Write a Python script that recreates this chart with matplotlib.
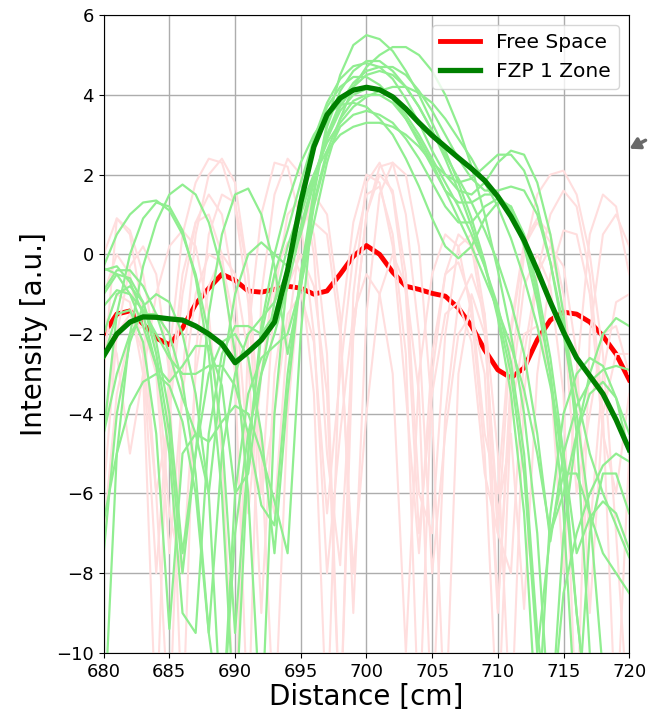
import numpy as np
import matplotlib
matplotlib.use("Agg")
import matplotlib.pyplot as plt

# distancias (cm)
x = np.arange(680, 721)

# curvas medias
free_space = [-2.0, -1.5, -1.42, -1.75, -2.1, -2.27, -1.85, -1.25, -0.85, -0.5,
              -0.65, -0.92, -0.95, -0.88, -0.8, -0.85, -1.0, -0.92, -0.5, -0.05,
              0.22, 0.0, -0.45, -0.8, -0.88, -0.98, -1.05, -1.35, -1.8, -2.4,
              -2.9, -3.1, -2.85, -2.15, -1.65, -1.45, -1.5, -1.7, -2.05, -2.5,
              -3.15]
fzp_1zone = [-2.55, -2.0, -1.7, -1.57, -1.58, -1.62, -1.65, -1.8, -2.0, -2.25,
             -2.72, -2.45, -2.15, -1.7, -0.4, 1.3, 2.7, 3.5, 3.92, 4.12,
             4.19, 4.13, 3.95, 3.65, 3.3, 2.98, 2.7, 2.42, 2.15, 1.85,
             1.45, 0.95, 0.35, -0.4, -1.2, -1.95, -2.6, -3.05, -3.5, -4.15,
             -4.9]

# corridas individuais (zona 1)
fzp_runs = [
  [-1.0, -0.5, -0.6, -1.2, -2.5, -4.5, -8.0, -5.0, -3.0, -2.2, -2.0, -2.6, -4.5, -7.5,
   -3.5, -0.5, 1.6, 3.3, 4.5, 5.25, 5.5, 5.4, 5.1, 4.6, 4.0, 3.3, 2.6, 1.8, 0.9, -0.2,
   -1.6, -3.5, -6.5, -12, -6.5, -4.0, -3.0, -2.6, -2.8, -3.6, -5.0],
  [-7.5, -4.0, -2.2, -1.3, -1.0, -1.2, -2.0, -3.5, -6.0, -12, -6.0, -3.5, -2.6, -2.3,
   -2.0, -0.8, 0.8, 2.3, 3.4, 4.2, 4.7, 5.0, 5.2, 5.2, 5.0, 4.6, 4.0, 3.2, 2.2, 1.0,
   -0.4, -2.0, -4.0, -7.0, -12, -7.0, -4.5, -3.5, -3.2, -3.6, -4.5],
  [-0.3, 0.5, 1.0, 1.3, 1.35, 1.1, 0.5, -0.5, -2.0, -4.5, -9.5, -5.0, -2.0, -0.5,
   0.6, 1.8, 2.9, 3.8, 4.4, 4.72, 4.8, 4.7, 4.4, 3.9, 3.3, 2.6, 2.0, 1.6, 1.5, 1.8,
   2.3, 2.6, 2.5, 1.8, 0.5, -1.5, -4.5, -10, -12, -12, -12],
  [-4.5, -3.0, -2.0, -1.5, -1.5, -2.0, -3.2, -5.5, -9.5, -5.0, -3.0, -2.0, -1.6, -1.2,
   -0.4, 0.7, 1.9, 2.9, 3.7, 4.2, 4.5, 4.6, 4.5, 4.2, 3.7, 3.1, 2.4, 1.6, 0.7, -0.3,
   -1.5, -3.0, -5.5, -10, -7.0, -5.5, -5.5, -6.5, -7.5, -8.0, -8.5],
  [-12, -5.0, -2.0, -0.3, 0.8, 1.5, 1.75, 1.5, 0.8, -0.4, -2.5, -6.0, -12, -4.0,
   -0.5, 1.5, 2.8, 3.7, 4.2, 4.45, 4.45, 4.25, 3.9, 3.4, 2.8, 2.2, 1.6, 1.3, 1.3, 1.5,
   1.5, 1.1, 0.2, -1.2, -3.0, -5.5, -9.0, -12, -12, -12, -12],
  [-2.0, -1.0, -0.8, -1.2, -2.2, -4.0, -7.5, -5.0, -1.5, 0.5, 1.5, 1.65, 1.0, -0.3,
   -2.5, -0.8, 1.2, 2.5, 3.2, 3.5, 3.6, 3.5, 3.3, 2.9, 2.4, 1.8, 1.2, 0.8, 0.8, 1.2,
   1.4, 1.2, 0.4, -1.0, -3.0, -6.5, -12, -7.0, -5.5, -5.5, -6.5],
  [-0.4, -0.3, -0.7, -1.5, -2.8, -5.0, -9.0, -9.5, -4.5, -2.5, -1.8, -1.8, -2.0, -1.5,
   -0.3, 1.0, 2.0, 2.8, 3.3, 3.7, 3.95, 4.1, 4.2, 4.2, 4.05, 3.8, 3.4, 2.9, 2.4, 1.8,
   1.2, 0.4, -0.6, -1.8, -3.3, -5.0, -7.5, -6.6, -6.2, -6.5, -7.4],
  [-4.5, -1.5, 0.0, 0.9, 1.3, 1.2, 0.6, -0.6, -2.5, -6.0, -12, -5.0, -1.8, 0.0,
   1.3, 2.3, 3.0, 3.5, 3.75, 3.8, 3.7, 3.4, 3.0, 2.4, 1.7, 0.9, 0.2, -0.1, 0.2, 0.9,
   1.3, 1.2, 0.5, -0.8, -2.6, -5.0, -9.0, -12, -12, -12, -12],
  [-6.7, -5.0, -3.8, -3.2, -3.0, -3.3, -4.2, -6.0, -9.5, -12, -7.0, -4.5, -3.0, -2.0,
   -0.8, 0.6, 1.9, 3.0, 3.8, 4.3, 4.6, 4.7, 4.7, 4.5, 4.1, 3.6, 3.0, 2.4, 1.9, 1.6,
   1.6, 1.7, 1.6, 1.0, -0.2, -1.8, -3.5, -5.0, -6.0, -6.8, -7.6],
  [-0.35, -0.5, -1.0, -1.8, -2.8, -3.2, -2.8, -2.3, -2.3, -3.3, -6.0, -5.5, -3.0, -1.2,
   0.2, 1.2, 2.0, 2.6, 3.0, 3.2, 3.3, 3.3, 3.2, 3.0, 2.7, 2.3, 2.0, 1.8, 1.9, 2.2,
   2.5, 2.5, 2.1, 1.2, -0.2, -2.0, -4.0, -6.5, -10.5, -12, -12],
  [-1.3, -0.9, -1.0, -1.4, -2.0, -2.6, -3.0, -3.0, -2.8, -2.8, -3.3, -4.5, -6.3, -6.8,
   -3.0, -0.5, 1.3, 2.6, 3.4, 3.85, 4.0, 4.0, 3.8, 3.4, 2.9, 2.3, 1.6, 0.9, 0.2, -0.6,
   -1.4, -2.3, -3.4, -5.0, -7.0, -6.0, -4.5, -3.0, -2.0, -1.6, -1.8],
  [-0.9, -0.4, -0.4, -0.8, -1.5, -2.5, -3.6, -4.5, -4.7, -4.2, -3.8, -4.0, -5.0, -6.2,
   -7.5, -2.0, 1.5, 3.2, 4.1, 4.6, 4.85, 4.85, 4.6, 4.2, 3.7, 3.1, 2.5, 1.9, 1.3, 0.6,
   -0.2, -1.2, -2.5, -4.5, -7.2, -5.0, -3.8, -3.2, -2.9, -2.8, -2.9],
  [-2.6, -1.5, -1.4, -2.2, -4.5, -9.4, -5.0, -4.5, -6.0, -3.0, -1.0, 0.0, 0.3, 0.0,
   -0.3, 0.5, 1.8, 2.9, 3.6, 4.0, 4.15, 4.1, 3.9, 3.5, 3.0, 2.4, 1.8, 1.2, 0.5, -0.3,
   -1.3, -2.7, -5.0, -9.5, -12, -8.5, -7.0, -6.0, -5.3, -5.0, -5.2],
]

# corridas individuais (espaco livre)
free_runs = [
  [-3.0, 0.9, 0.5, -1.5, -6.0, -12, -3.0, 0.5, 2.0, 2.4, 1.8, -0.5, -5.0, -12,
   -4.0, -0.5, 0.8, 0.5, -2.0, -8.0, -4.0, -1.0, 0.0, -0.8, -3.5, -12, -4.0, -1.2, -0.5, -1.5,
   -5.0, -12, -3.5, -0.5, 1.0, 1.6, 1.2, -0.5, -4.0, -12, -5.0],
  [-1.0, 0.0, -0.5, -2.5, -8.0, -3.5, -0.5, 0.8, 1.0, 0.0, -3.0, -12, -1.0, 1.5,
   2.4, 2.0, 0.0, -5.0, -7.8, -2.0, 1.0, 2.0, 1.6, -0.5, -6.0, -7.0, -2.0, 0.2, 0.5, -1.5,
   -8.9, -3.5, -0.8, 0.0, -0.8, -3.5, -12, -2.0, 0.5, 1.0, 0.2],
  [-6.0, -2.0, -0.3, 0.2, -0.5, -3.0, -12, -2.5, 0.5, 1.5, 1.3, -0.5, -5.0, -6.5,
   -2.0, 0.5, 1.5, 1.0, -1.5, -9.0, -1.5, 1.5, 2.3, 2.0, 0.2, -4.0, -12, -3.0, -1.0, -2.0,
   -6.5, -4.5, -8.9, -3.0, -0.5, 0.6, 0.5, -1.0, -4.5, -6.0, -3.5],
  [0.0, 0.9, 0.6, -0.5, -2.5, -6.5, -8.0, -3.0, -0.8, 0.0, -0.5, -2.5, -9.0, -3.0,
   -0.8, 0.0, -0.8, -3.5, -12, -2.0, 1.0, 2.2, 2.3, 1.0, -2.0, -8.0, -4.5, -2.0, -1.5, -3.0,
   -9.0, -3.0, 0.0, 1.5, 2.0, 2.1, 1.5, 0.0, -2.5, -7.0, -12],
  [-4.5, -2.0, -1.5, -2.5, -6.0, -4.0, -1.0, 0.8, 1.5, 1.0, -1.0, -5.0, -6.0, -1.0,
   1.0, 1.4, 0.5, -2.5, -12, -1.0, 1.8, 2.3, 1.5, -1.0, -7.0, -3.5, -1.5, -1.2, -2.2, -5.5,
   -7.0, -2.0, 0.2, 0.8, 0.3, -1.5, -6.0, -4.0, -2.0, -1.8, -3.0],
  [-2.0, -1.0, -1.2, -3.0, -12, -2.5, 0.5, 1.8, 2.4, 2.3, 1.2, -1.2, -6.0, -4.0,
   -1.5, -1.0, -2.2, -6.5, -3.0, 0.0, 1.5, 1.7, 0.5, -2.5, -12, -3.0, -0.5, 0.5, 0.2, -1.8,
   -7.0, -8.0, -2.5, -0.5, 0.2, -0.3, -2.5, -9.0, -4.0, -2.5, -2.5],
  [-1.5, -2.5, -5.0, -3.0, -1.0, 0.2, 0.6, 0.2, -1.5, -5.0, -12, -2.0, 1.0, 2.3,
   2.2, 0.8, -2.0, -8.0, -4.5, -1.5, -0.5, -1.0, -3.0, -10, -3.0, -0.5, 0.5, 0.2, -1.5, -5.0,
   -12, -4.0, -2.0, -1.8, -3.0, -8.0, -3.0, 0.5, 1.5, 1.2, -0.5],
  [-7.0, -3.5, -2.0, -1.8, -3.0, -7.5, -3.5, -1.0, 0.0, -0.2, -1.8, -6.5, -3.0, -0.5,
   0.3, -0.5, -3.5, -12, -2.0, 0.8, 2.0, 1.8, 0.2, -3.5, -7.5, -2.5, -0.5, -0.2, -1.2, -4.5,
   -6.0, -1.8, 0.3, 0.9, 0.5, -1.0, -4.0, -7.0, -3.0, -1.2, -1.0],
]

fig = plt.figure(figsize=(6.48, 7.23), dpi=100)
ax = fig.add_subplot(111)
fig.subplots_adjust(left=0.160, right=0.971, bottom=0.097, top=0.979)

ax.plot(x, free_space, color="red", lw=3.5, label="Free Space", zorder=2)
for run in free_runs:
  ax.plot(x, run, color="#ffdede", lw=1.5, zorder=2)
for run in fzp_runs:
  ax.plot(x, run, color="lightgreen", lw=1.6, zorder=2)
ax.plot(x, fzp_1zone, color="green", lw=3.8, label="FZP 1 Zone", zorder=3)

ax.set_xlim(680, 720)
ax.set_ylim(-10, 6)
ax.set_xticks(range(680, 721, 5))
ax.set_yticks(range(-10, 7, 2))
ax.tick_params(labelsize=13)
ax.grid(True, color="0.68", lw=1.0)
ax.set_xlabel("Distance [cm]", fontsize=20, labelpad=2)
ax.set_ylabel("Intensity [a.u.]", fontsize=20, labelpad=6)
ax.legend(loc="upper right", fontsize=14.5)

# seta cortada na borda
ax.annotate("", xy=(627/648, 1 - 150/723), xytext=(1.0, 1 - 139/723),
            xycoords="figure fraction", textcoords="figure fraction",
            arrowprops=dict(arrowstyle="-|>,head_length=0.6,head_width=0.35",
                            color="dimgray", lw=2.5))

fig.savefig("out.png")
